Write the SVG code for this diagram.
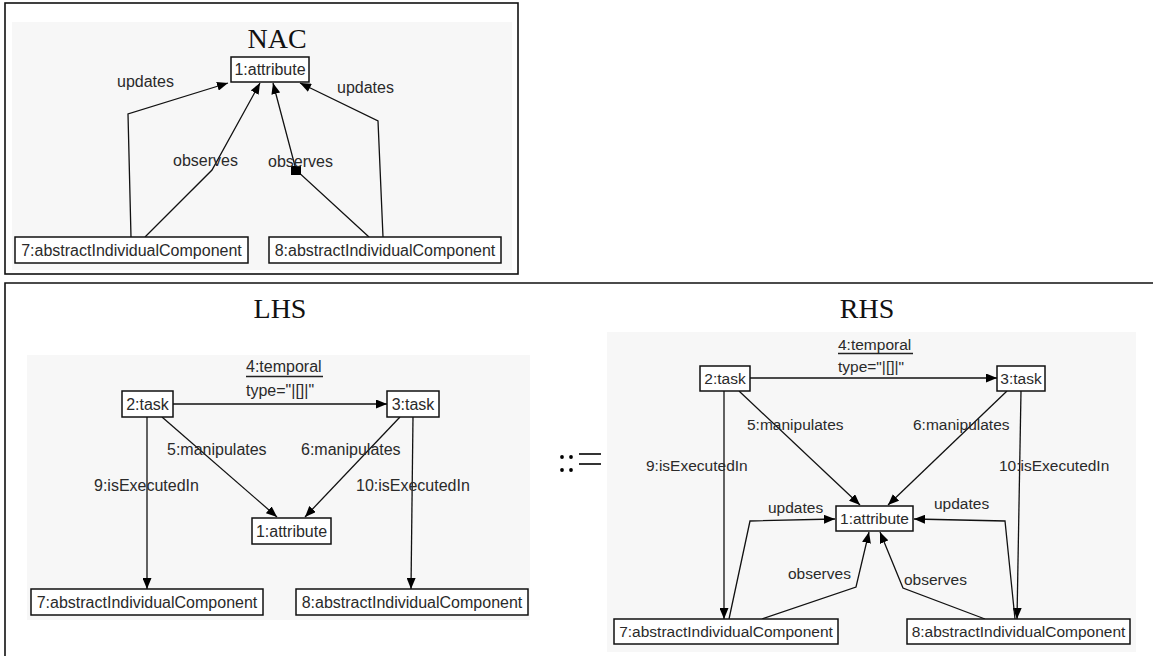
<svg xmlns="http://www.w3.org/2000/svg" width="1153" height="656" viewBox="0 0 1153 656">
  <style>
    .frame { fill: none; stroke: #111; stroke-width: 1.6; }
    .panel { fill: #f7f7f7; stroke: none; }
    .title { font-family: "Liberation Serif", "Times New Roman", serif; font-size: 28px; fill: #111; text-anchor: middle; }
    .box { fill: #fff; stroke: #111; stroke-width: 1.5; }
    .lbl { font-family: "Liberation Sans", Arial, sans-serif; font-size: 16px; fill: #2a2a2a; }
    .lbl.r { font-size: 15.5px; }
    .ctr { text-anchor: middle; }
    .edge { fill: none; stroke: #111; stroke-width: 1.3; }
    .arr { marker-end: url(#head); }
    .uline { stroke: #222; stroke-width: 1.3; }
  </style>
  <defs>
    <marker id="head" viewBox="0 0 11 9" refX="11" refY="4.5" markerWidth="11" markerHeight="9" markerUnits="userSpaceOnUse" orient="auto">
      <path d="M0,0 L11,4.5 L0,9 z" fill="#000"/>
    </marker>
  </defs>

  <rect width="1153" height="656" fill="#fff"/>

  <!-- NAC frame -->
  <g id="nac-frame">
    <rect class="panel" x="12" y="22" width="500" height="248"/>
    <rect class="frame" x="5" y="3" width="513" height="271"/>
    <text class="title" x="277" y="48">NAC</text>
  </g>

  <!-- rule frame (LHS ::= RHS) -->
  <g id="rule-frame">
    <rect class="panel" x="27" y="355" width="503" height="265"/>
    <rect class="panel" x="607" y="332" width="529" height="320"/>
    <path class="frame" d="M5,660 L5,283 L1160,283"/>
    <text class="title" x="280" y="318">LHS</text>
    <text class="title" x="867" y="318">RHS</text>
    <g id="produces">
      <circle cx="562" cy="457" r="1.9" fill="#000"/>
      <circle cx="571" cy="457" r="1.9" fill="#000"/>
      <circle cx="562" cy="470" r="1.9" fill="#000"/>
      <circle cx="571" cy="470" r="1.9" fill="#000"/>
      <line x1="579" y1="454" x2="601" y2="454" stroke="#000" stroke-width="1.6"/>
      <line x1="579" y1="464" x2="601" y2="464" stroke="#000" stroke-width="1.6"/>
    </g>
  </g>

  <!-- connectors -->
  <g id="connectors">
    <!-- NAC -->
    <polyline class="edge arr" points="131,237 128,114 228,83"/>
    <polyline class="edge arr" points="145,237 212,170 260,83"/>
    <polyline class="edge arr" points="369,237 296,170 273,83"/>
    <rect x="291" y="166" width="10" height="9" fill="#000"/>
    <polyline class="edge arr" points="383,237 378,121 300,83"/>
    <text class="lbl" x="117" y="87">updates</text>
    <text class="lbl" x="173" y="166">observes</text>
    <text class="lbl" x="268" y="167">observes</text>
    <text class="lbl" x="337" y="93">updates</text>

    <!-- LHS -->
    <line class="edge arr" x1="173" y1="404" x2="387" y2="404"/>
    <line class="edge arr" x1="162" y1="417" x2="277" y2="517"/>
    <line class="edge arr" x1="400" y1="417" x2="305" y2="517"/>
    <line class="edge arr" x1="147" y1="417" x2="147" y2="589"/>
    <line class="edge arr" x1="413" y1="417" x2="411" y2="589"/>
    <text class="lbl" x="246" y="372">4:temporal</text>
    <line class="uline" x1="246" y1="376.5" x2="323" y2="376.5"/>
    <text class="lbl" x="246" y="396">type="|[]|"</text>
    <text class="lbl" x="167" y="455">5:manipulates</text>
    <text class="lbl" x="301" y="455">6:manipulates</text>
    <text class="lbl" x="94" y="491">9:isExecutedIn</text>
    <text class="lbl" x="356" y="491">10:isExecutedIn</text>

    <!-- RHS -->
    <line class="edge arr" x1="750" y1="378" x2="997" y2="378"/>
    <line class="edge arr" x1="739" y1="391" x2="860" y2="505"/>
    <line class="edge arr" x1="1007" y1="391" x2="888" y2="505"/>
    <line class="edge arr" x1="724" y1="391" x2="724" y2="619"/>
    <line class="edge arr" x1="1021" y1="391" x2="1017" y2="619"/>
    <polyline class="edge arr" points="729,619 750,521 835,519"/>
    <polyline class="edge arr" points="762,619 856,587 869,532"/>
    <polyline class="edge arr" points="985,619 903,588 880,532"/>
    <polyline class="edge arr" points="1015,619 1005,521 914,519"/>
    <text class="lbl r" x="838" y="350">4:temporal</text>
    <line class="uline" x1="838" y1="353.5" x2="913" y2="353.5"/>
    <text class="lbl r" x="838" y="372">type="|[]|"</text>
    <text class="lbl r" x="747" y="430">5:manipulates</text>
    <text class="lbl r" x="913" y="430">6:manipulates</text>
    <text class="lbl r" x="646" y="471">9:isExecutedIn</text>
    <text class="lbl r" x="999" y="471">10:isExecutedIn</text>
    <text class="lbl r" x="768" y="513">updates</text>
    <text class="lbl r" x="934" y="509">updates</text>
    <text class="lbl r" x="788" y="579">observes</text>
    <text class="lbl r" x="904" y="585">observes</text>
  </g>

  <!-- NAC nodes -->
  <g id="nac-attr1">
    <rect class="box" x="231" y="57" width="78" height="25"/>
    <text class="lbl ctr" x="270" y="75">1:attribute</text>
  </g>
  <g id="nac-comp7">
    <rect class="box" x="15" y="237" width="233" height="26"/>
    <text class="lbl ctr" x="131.5" y="256">7:abstractIndividualComponent</text>
  </g>
  <g id="nac-comp8">
    <rect class="box" x="269" y="237" width="232" height="26"/>
    <text class="lbl ctr" x="385" y="256">8:abstractIndividualComponent</text>
  </g>

  <!-- LHS nodes -->
  <g id="lhs-task2">
    <rect class="box" x="122" y="391" width="51" height="26"/>
    <text class="lbl ctr" x="147.5" y="410">2:task</text>
  </g>
  <g id="lhs-task3">
    <rect class="box" x="387" y="391" width="52" height="26"/>
    <text class="lbl ctr" x="413" y="410">3:task</text>
  </g>
  <g id="lhs-attr1">
    <rect class="box" x="252" y="518" width="79" height="26"/>
    <text class="lbl ctr" x="291.5" y="537">1:attribute</text>
  </g>
  <g id="lhs-comp7">
    <rect class="box" x="31" y="589" width="232" height="26"/>
    <text class="lbl ctr" x="147" y="608">7:abstractIndividualComponent</text>
  </g>
  <g id="lhs-comp8">
    <rect class="box" x="296" y="589" width="232" height="26"/>
    <text class="lbl ctr" x="412" y="608">8:abstractIndividualComponent</text>
  </g>

  <!-- RHS nodes -->
  <g id="rhs-task2">
    <rect class="box" x="700" y="366" width="50" height="25"/>
    <text class="lbl r ctr" x="725" y="384">2:task</text>
  </g>
  <g id="rhs-task3">
    <rect class="box" x="997" y="366" width="48" height="25"/>
    <text class="lbl r ctr" x="1021" y="384">3:task</text>
  </g>
  <g id="rhs-attr1">
    <rect class="box" x="836" y="506" width="77" height="25"/>
    <text class="lbl r ctr" x="874.5" y="524">1:attribute</text>
  </g>
  <g id="rhs-comp7">
    <rect class="box" x="614" y="619" width="224" height="25"/>
    <text class="lbl r ctr" x="726" y="637">7:abstractIndividualComponent</text>
  </g>
  <g id="rhs-comp8">
    <rect class="box" x="907" y="619" width="223" height="25"/>
    <text class="lbl r ctr" x="1018.5" y="637">8:abstractIndividualComponent</text>
  </g>
</svg>
